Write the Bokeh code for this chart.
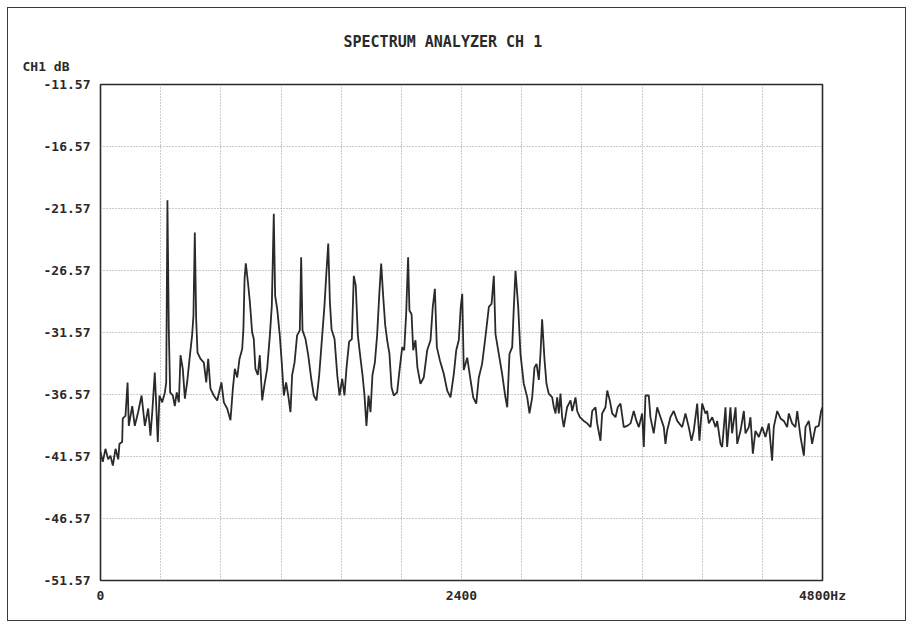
from bokeh.plotting import figure
from bokeh.models import Range1d, FixedTicker, Title, InlineStyleSheet
from bokeh.embed import file_html
from bokeh.resources import INLINE

# ---- data ----
title_text = "SPECTRUM ANALYZER CH 1"
y_title = "CH1 dB"
y_ticks = [-11.57, -16.57, -21.57, -26.57, -31.57, -36.57, -41.57, -46.57, -51.57]
y_tick_labels = ["-11.57", "-16.57", "-21.57", "-26.57", "-31.57", "-36.57", "-41.57", "-46.57", "-51.57"]
x_ticks = [0, 2400, 4800]
x_tick_labels = ["0", "2400", "4800Hz"]
x_grid = [0, 400, 800, 1200, 1600, 2000, 2400, 2800, 3200, 3600, 4000, 4400, 4800]

freq_hz = [
    0, 15, 33, 51, 66, 82, 100, 118, 126, 144, 148, 166, 180, 188, 211, 228, 250, 273, 295, 317,
    332, 344, 361, 381, 392, 410, 428, 437, 445, 454, 463, 481, 494, 507, 521, 532, 547, 561, 576, 592,
    609, 618, 627, 636, 645, 665, 687, 703, 716, 731, 753, 776, 804, 820, 842, 864, 880, 893, 909, 924,
    942, 950, 958, 966, 980, 993, 1008, 1019, 1030, 1046, 1059, 1075, 1090, 1108, 1126, 1139, 1152, 1161, 1175, 1192,
    1205, 1219, 1234, 1248, 1263, 1274, 1290, 1307, 1325, 1334, 1343, 1363, 1381, 1401, 1418, 1436, 1454, 1474, 1489, 1502,
    1514, 1525, 1536, 1556, 1574, 1589, 1607, 1622, 1635, 1653, 1671, 1684, 1697, 1711, 1724, 1742, 1755, 1768, 1782, 1795,
    1808, 1824, 1839, 1853, 1866, 1879, 1893, 1906, 1921, 1935, 1950, 1972, 1988, 2006, 2019, 2032, 2045, 2054, 2068, 2079,
    2094, 2107, 2127, 2149, 2172, 2194, 2209, 2223, 2236, 2256, 2282, 2305, 2327, 2349, 2365, 2382, 2395, 2405, 2415, 2438,
    2460, 2478, 2498, 2515, 2537, 2559, 2582, 2600, 2615, 2626, 2648, 2670, 2692, 2704, 2719, 2737, 2748, 2759, 2777, 2792,
    2814, 2837, 2852, 2870, 2885, 2899, 2914, 2925, 2936, 2952, 2965, 2980, 3003, 3014, 3025, 3036, 3047, 3058, 3069, 3080,
    3102, 3125, 3136, 3158, 3169, 3187, 3213, 3236, 3258, 3269, 3291, 3302, 3324, 3335, 3357, 3369, 3386, 3402, 3424, 3439,
    3457, 3479, 3502, 3524, 3545, 3563, 3579, 3601, 3612, 3623, 3645, 3656, 3678, 3701, 3723, 3745, 3756, 3767, 3789, 3811,
    3834, 3867, 3889, 3911, 3929, 3944, 3967, 3982, 4000, 4022, 4033, 4044, 4067, 4089, 4100, 4122, 4133, 4155, 4166, 4188,
    4199, 4222, 4233, 4255, 4277, 4288, 4310, 4321, 4337, 4354, 4377, 4399, 4421, 4443, 4465, 4476, 4499, 4521, 4543, 4565,
    4576, 4598, 4620, 4632, 4654, 4676, 4687, 4709, 4731, 4753, 4775, 4791, 4800,
]

level_db = [
    -41.2, -42.0, -40.95, -41.8, -41.5, -42.3, -40.95, -41.8, -40.55, -40.4, -38.5, -38.3, -35.6, -39.1, -37.5, -39.1, -38.0, -36.65, -39.1, -37.7,
    -39.9, -38.0, -34.8, -40.4, -36.65, -37.2, -36.4, -35.6, -20.9, -31.3, -36.4, -36.65, -37.5, -36.4, -37.2, -33.4, -34.5, -36.9, -35.6, -33.7,
    -31.8, -30.2, -23.5, -30.5, -33.2, -33.7, -34.0, -35.6, -33.7, -36.1, -36.65, -37.05, -35.6, -37.2, -37.7, -38.65, -36.1, -34.5, -35.2, -33.7,
    -32.9, -31.3, -27.2, -26.0, -27.5, -29.1, -31.55, -32.1, -34.5, -35.0, -33.4, -37.05, -35.8, -34.5, -31.8, -29.4, -22.0, -28.6, -29.7, -31.8,
    -34.0, -36.65, -35.6, -36.65, -38.0, -35.0, -34.0, -31.8, -31.4, -25.5, -31.4, -32.1, -33.4, -35.3, -36.65, -37.05, -35.0, -31.8, -29.4, -26.7,
    -24.4, -29.1, -31.3, -32.1, -35.0, -36.65, -35.3, -36.65, -34.5, -32.3, -32.1, -27.0, -27.8, -31.8, -33.2, -35.0, -36.65, -39.1, -36.65, -38.0,
    -35.0, -34.0, -31.8, -28.6, -26.0, -28.6, -31.0, -32.2, -33.3, -36.0, -36.65, -36.4, -34.6, -32.75, -33.0, -30.1, -25.5, -29.8, -30.1, -33.0,
    -32.2, -34.4, -35.7, -35.2, -33.0, -32.2, -29.5, -28.05, -32.75, -33.8, -34.9, -36.25, -36.8, -34.9, -33.0, -32.2, -29.5, -28.45, -34.6, -33.6,
    -35.4, -36.8, -37.3, -35.2, -34.1, -31.95, -29.5, -29.25, -27.0, -31.7, -33.3, -34.9, -36.8, -37.6, -33.3, -32.75, -29.5, -26.6, -29.5, -33.3,
    -35.7, -36.8, -38.1, -36.8, -34.4, -34.1, -35.4, -33.3, -30.5, -33.8, -35.7, -36.5, -36.8, -37.6, -38.1, -36.8, -38.1, -36.5, -38.4, -39.2,
    -37.6, -37.05, -37.9, -36.8, -37.9, -38.4, -38.7, -38.9, -39.2, -37.9, -37.6, -38.9, -40.3, -38.1, -37.6, -36.25, -37.05, -38.1, -38.4, -37.6,
    -37.3, -39.2, -39.1, -38.9, -37.9, -38.7, -39.2, -38.1, -40.8, -36.65, -36.65, -38.4, -39.7, -37.6, -38.4, -39.2, -40.55, -39.5, -38.4, -37.9,
    -38.7, -39.2, -38.1, -39.2, -40.3, -39.5, -37.3, -40.3, -37.3, -38.1, -37.9, -38.9, -38.4, -39.2, -38.7, -40.55, -40.8, -37.6, -40.8, -37.6,
    -39.7, -37.6, -40.55, -39.5, -37.9, -39.7, -39.2, -38.4, -41.35, -39.5, -40.0, -39.2, -40.0, -38.9, -41.9, -39.2, -37.9, -38.5, -38.7, -39.2,
    -38.1, -38.9, -39.2, -37.9, -40.0, -41.5, -39.2, -38.7, -40.55, -39.2, -39.1, -37.9, -37.6,
]

assert len(freq_hz) == len(level_db), (len(freq_hz), len(level_db))

FONT = "DejaVu Sans Mono"
INK = "#2a2a2a"

page_frame = InlineStyleSheet(css="""
:host { position: relative; }
:host::after {
  content: ""; position: absolute; left: 7px; top: 7px; right: 4px; bottom: 2px;
  border: 1.5px solid #3a3a3a; pointer-events: none; z-index: 100;
}
""")

p = figure(
    frame_width=722, frame_height=496,
    min_border_left=100, min_border_right=88, min_border_top=84, min_border_bottom=43,
    x_range=Range1d(0, 4800), y_range=Range1d(-51.57, -11.57),
    output_backend="svg", toolbar_location=None,
    background_fill_color="white", border_fill_color="white",
    stylesheets=[page_frame],
)
p.title.visible = False

p.outline_line_color = INK
p.outline_line_width = 1.6
p.outline_line_alpha = 1.0

# axes
p.xaxis.ticker = FixedTicker(ticks=x_ticks)
p.xaxis.major_label_overrides = {t: l for t, l in zip(x_ticks, x_tick_labels)}
p.yaxis.ticker = FixedTicker(ticks=y_ticks)
p.yaxis.major_label_overrides = {t: l for t, l in zip(y_ticks, y_tick_labels)}
for ax in (p.xaxis[0], p.yaxis[0]):
    ax.axis_line_color = None
    ax.major_tick_line_color = None
    ax.minor_tick_line_color = None
    ax.major_tick_out = 0
    ax.major_tick_in = 0
    ax.major_label_text_font = FONT
    ax.major_label_text_font_size = "13px"
    ax.major_label_text_font_style = "bold"
    ax.major_label_text_color = INK
p.yaxis.major_label_standoff = 10
p.xaxis.major_label_standoff = 7

# grids
p.xgrid.ticker = FixedTicker(ticks=x_grid)
for g in (p.xgrid[0], p.ygrid[0]):
    g.grid_line_color = "#8c8c8c"
    g.grid_line_dash = "1 2"
    g.grid_line_width = 1
    g.grid_line_alpha = 0.9

# spectrum trace
p.line(freq_hz, level_db, line_color=INK, line_width=1.8)

# y unit label (closest to frame) and main title above it
p.add_layout(Title(text=y_title, align="left", offset=-78, standoff=21,
                   text_font=FONT, text_font_size="13px", text_font_style="bold", text_color=INK), "above")
p.add_layout(Title(text=title_text, align="left", offset=243, standoff=-8,
                   text_font=FONT, text_font_size="15px", text_font_style="bold", text_color=INK), "above")

open("out.html", "w").write(file_html(p, INLINE))
